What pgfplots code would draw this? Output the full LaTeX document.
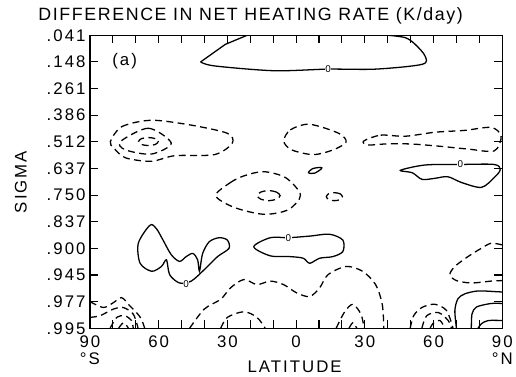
\documentclass[border=0pt]{standalone}
\usepackage{fontspec}
\setmainfont{Liberation Sans}[LetterSpace=12]
\newfontfamily\titlefont{Liberation Sans}[LetterSpace=9]
\usepackage{pgfplots}
\pgfplotsset{compat=1.18}
\begin{document}
\begin{tikzpicture}[
  dsh/.style={dash pattern=on 7pt off 4.5pt},
  lbl/.style={fill=white, inner sep=0.5pt, font=\fontsize{10}{10}\selectfont},
]
\begin{axis}[
  anchor=south west, at={(0pt,0pt)},
  scale only axis, width=417pt, height=296.3pt,
  xmin=-90, xmax=90, ymin=0, ymax=11, y dir=reverse,
  axis line style={line width=1.1pt},
  tick style={line width=1.1pt, black},
  major tick length=8pt, minor tick length=8pt,
  tick pos=both, xticklabel pos=lower, yticklabel pos=left,
  xtick={-90,-60,-30,0,30,60,90},
  xticklabels={{90\\°S},60,30,0,30,60,{90\\°N}},
  minor xtick={-80,-70,-50,-40,-20,-10,10,20,40,50,70,80},
  ytick={0,1,2,3,4,5,6,7,8,9,10,11},
  yticklabels={.041,.148,.261,.386,.512,.637,.750,.837,.900,.945,.977,.995},
  /pgf/number format/assume math mode=true,
  x tick label style={align=center, font=\fontsize{17}{17}\selectfont, yshift=-4pt},
  y tick label style={font=\fontsize{17}{17}\selectfont, xshift=-1pt},
  every axis plot/.append style={black, line width=1.3pt, mark=none},
]
% C1 top solid
\addplot[sharp plot] coordinates {(-21.4,0) (-30.9,0.34) (-41.7,1.0)};
\addplot[smooth] coordinates {(-41.7,1.0) (-35.6,1.15) (-9.7,1.33) (14,1.27) (34.7,1.27) (55,1.09) (56.3,0.78) (52,0.34) (47.7,0.09) (40.3,0)};
% C2 left dashed at .512
\addplot[dsh, smooth cycle] coordinates {(-81.1,3.99) (-76.1,3.43) (-63.2,3.19) (-46.0,3.37) (-30.0,3.68) (-27.9,4.05) (-35.6,4.48) (-52.9,4.52) (-63.2,4.73) (-74.5,4.60) (-79.6,4.23)};
\addplot[dsh, smooth cycle] coordinates {(-76.7,3.99) (-64.5,3.49) (-54.5,4.05) (-63.2,4.46) (-74.6,4.30)};
\addplot[dsh, smooth cycle] coordinates {(-60.2,3.99) (-61.5,3.88) (-64.5,3.84) (-67.5,3.88) (-68.8,3.99) (-67.5,4.10) (-64.5,4.14) (-61.5,4.10)};
% C3 centre dashed
\addplot[dsh, smooth cycle] coordinates {(-5.4,3.97) (-2.5,3.55) (5.8,3.34) (18.6,3.68) (21.8,4.01) (16.2,4.30) (7.5,4.48) (-2,4.3)};
% C4 right dashed
\addplot[dsh, smooth cycle] coordinates {(29.5,3.97) (36.9,3.75) (47.7,3.79) (60.6,3.64) (73.6,3.57) (85.2,3.46) (89.5,3.79) (86.5,4.34) (74.9,4.27) (61.9,4.16) (49.8,4.08) (39.0,4.08) (31.2,4.12)};
% C5 right solid .637
\addplot[smooth cycle] coordinates {(45.5,5.07) (56.3,4.87) (71.7,4.85) (86.5,4.85) (89.1,5.05) (86.5,5.34) (80.9,5.71) (72.3,5.53) (66.2,5.31) (60.6,5.37) (55.0,5.41) (50.7,5.16)};
% C6 small solid
\addplot[smooth cycle] coordinates {(5.4,5.16) (7.1,5.01) (10.6,4.96) (11.1,5.01) (8.0,5.18)};
% C7 dashed .750
\addplot[dsh, smooth cycle] coordinates {(-35.1,6.02) (-28.7,5.53) (-22.8,5.28) (-14.2,5.12) (-4.5,5.35) (1.9,6.0) (-3.5,6.55) (-14.2,6.72) (-27.1,6.46)};
\addplot[dsh, smooth cycle] coordinates {(-7,6.02) (-8.5,5.89) (-12,5.83) (-15.5,5.89) (-17,6.02) (-15.5,6.15) (-12,6.21) (-8.5,6.15)};
% C8 small dashed
\addplot[dsh, smooth cycle] coordinates {(20.2,6.06) (19.2,5.95) (16.7,5.91) (14.2,5.95) (13.2,6.06) (14.2,6.17) (16.7,6.21) (19.2,6.17)};
% C9 left solid .900
\addplot[smooth cycle] coordinates {(-63.8,7.13) (-68.9,7.81) (-68.1,8.56) (-63.1,8.86) (-58.8,8.68) (-56.6,8.43) (-55.2,8.99) (-50.9,9.30) (-45.8,9.23) (-40.1,8.80) (-34.3,8.31) (-29.3,8.0) (-30.0,7.69) (-33.6,7.60) (-37.9,7.75) (-40.8,8.19) (-42.2,8.86) (-43.0,8.43) (-45.1,8.19) (-48.0,8.31) (-50.9,8.49) (-54.5,8.24) (-58.1,7.69) (-61.0,7.26)};
% C10 centre solid .900
\addplot[smooth cycle] coordinates {(-18.5,7.94) (-11.3,7.60) (-3.4,7.60) (5.9,7.54) (14.6,7.47) (20.4,7.69) (20.4,8.12) (16.0,8.31) (10.3,8.37) (5.9,8.56) (3.1,8.37) (-2.7,8.31) (-11.3,8.28)};
% C11 right dashed
\addplot[dsh, smooth] coordinates {(90,7.87) (85.1,7.81) (80.8,8.0) (75.0,8.31) (69.3,8.68) (67.1,8.99) (70.0,9.21) (76.5,9.30) (85.1,9.23) (90,9.21)};
% C12 long dashed near .977
\addplot[dsh, smooth] coordinates {(-46.5,11) (-40.1,10.28) (-32.9,9.91) (-28.6,9.48) (-22.8,9.17) (-17.1,9.36) (-11.3,9.23) (-5.5,9.36) (0.2,9.67) (5.9,9.81) (10.3,9.48) (13.9,8.99) (21.8,8.68) (29.0,8.86) (34.7,9.36) (37.6,10.10) (38.3,11)};
% C13 bottom arc
\addplot[dsh, smooth] coordinates {(-32.9,11) (-30.0,10.59) (-22.8,10.38) (-17.1,10.59) (-13.5,11)};
% C14 arcs near 25N
\addplot[dsh, smooth] coordinates {(17.5,11) (21.0,10.41) (24.7,10.10) (28.3,10.47) (29.7,11)};
\addplot[dsh, smooth] coordinates {(23.1,11) (24.8,10.79) (26.5,11)};
% C15 left corner arcs
\addplot[dsh, smooth] coordinates {(-90,10.0) (-84.1,10.22) (-79.8,10.04) (-76.2,9.85) (-72.6,10.16) (-69.7,10.41) (-67.6,10.65) (-66.1,11)};
\addplot[dsh, smooth] coordinates {(-90,10.59) (-85.6,10.53) (-79.8,10.28) (-75.5,10.22) (-71.1,10.47) (-69.0,11)};
\addplot[dsh, smooth] coordinates {(-81.2,11) (-78.3,10.59) (-74.8,10.53) (-71.9,10.71) (-71.1,11)};
\addplot[dsh, smooth] coordinates {(-77.5,11) (-75.3,10.79) (-73.2,11)};
% C16 right corner dashed arcs
\addplot[dsh, smooth] coordinates {(49.8,11) (51.3,10.53) (54.9,10.22) (60.6,10.10) (65.7,10.34) (68.5,11)};
\addplot[dsh, smooth] coordinates {(54.9,11) (57.0,10.53) (62.1,10.41) (66.4,10.71) (67.8,11)};
\addplot[dsh, smooth] coordinates {(58.5,11) (59.9,10.81) (62.8,10.71) (65.0,11)};
% C17 right corner solids
\addplot[smooth] coordinates {(70.0,11) (69.3,10.34) (70.6,9.90) (73.6,9.71) (79.4,9.60) (88.0,9.63) (90,9.64)};
\addplot[smooth] coordinates {(76.5,11) (76.8,10.46) (78.8,10.2) (85.1,10.07) (90,10.07)};
\addplot[smooth] coordinates {(79.4,11) (80.9,10.83) (83.9,10.71) (90,10.71)};
% contour labels
\node[lbl] at (axis cs:14,1.27) {0};
\node[lbl] at (axis cs:71.7,4.85) {0};
\node[lbl] at (axis cs:-48,9.36) {0};
\node[lbl] at (axis cs:-3.4,7.60) {0};
\end{axis}
\node[anchor=base, font=\titlefont\fontsize{18}{18}\selectfont] at (162.5pt,311.3pt) {DIFFERENCE IN NET HEATING RATE (K/day)};
\node[font=\fontsize{17}{17}\selectfont] at (35pt,270pt) {(a)};
\node[anchor=base, font=\fontsize{17}{17}\selectfont] at (207pt,-45pt) {LATITUDE};
\node[anchor=base, rotate=90, font=\fontsize{17}{17}\selectfont] at (-64pt,148pt) {SIGMA};
\path (-91pt,-48pt) rectangle (425pt,332pt);
\end{tikzpicture}
\end{document}
